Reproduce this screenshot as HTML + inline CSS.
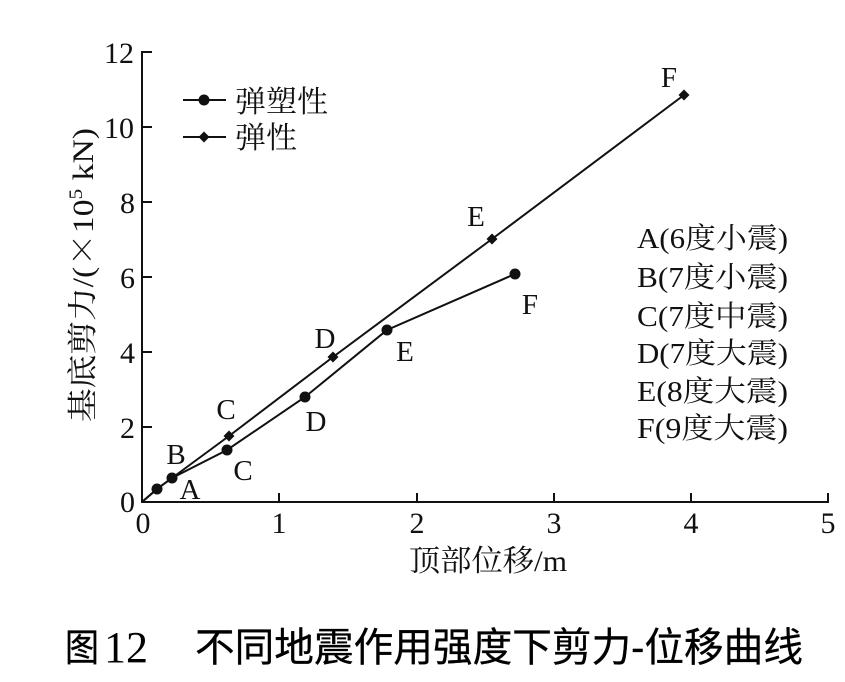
<!DOCTYPE html>
<html><head><meta charset="utf-8"><style>
html,body{margin:0;padding:0;background:#fff;}
svg{display:block;}
.t{font-family:"Liberation Serif","Noto Serif CJK SC",serif;fill:#111;}
.c{font-family:"Liberation Serif","Noto Serif CJK SC",serif;fill:#111;}
.cap{font-family:"Liberation Sans","Noto Sans CJK SC",sans-serif;fill:#000;}
</style></head><body>
<svg width="845" height="682" viewBox="0 0 845 682" xmlns="http://www.w3.org/2000/svg">
<rect width="845" height="682" fill="#fff"/>
<g stroke="#111" stroke-width="2" fill="none">
<path d="M142 51 V502 H829"/>
<path d="M142 52 H152 M142 127 H152 M142 202 H152 M142 277 H152 M142 352 H152 M142 427 H152"/>
<path d="M279 502 V493 M417 502 V493 M554 502 V493 M691 502 V493 M828 502 V493"/>
<polyline points="142,502 157,489 172,478 227,450 305,397 387,330 515,274"/>
<polyline points="142,502 157,489 172,478 229,436 333,357 492,239 684,95"/>
<path d="M183 100 H226 M183 137 H226"/>
</g>
<g fill="#111">
<path d="M157 483.5 L162.5 489 L157 494.5 L151.5 489Z"/>
<path d="M229 430.5 L234.5 436 L229 441.5 L223.5 436Z"/>
<path d="M333 351.5 L338.5 357 L333 362.5 L327.5 357Z"/>
<path d="M492 233.5 L497.5 239 L492 244.5 L486.5 239Z"/>
<path d="M684 89.5 L689.5 95 L684 100.5 L678.5 95Z"/>
<path d="M204 131.5 L209.5 137 L204 142.5 L198.5 137Z"/>
<circle cx="157" cy="489" r="5.5"/>
<circle cx="172" cy="478" r="5.5"/>
<circle cx="227" cy="450" r="5.5"/>
<circle cx="305" cy="397" r="5.5"/>
<circle cx="387" cy="330" r="5.5"/>
<circle cx="515" cy="274" r="5.5"/>
<circle cx="204" cy="100" r="5.5"/>
</g>
<!-- y tick labels -->
<g class="t" font-size="30" text-anchor="end">
<text x="134" y="63">12</text>
<text x="134" y="138">10</text>
<text x="135" y="213">8</text>
<text x="135" y="288">6</text>
<text x="135" y="363">4</text>
<text x="135" y="438">2</text>
<text x="135" y="512">0</text>
</g>
<!-- x tick labels -->
<g class="t" font-size="30" text-anchor="middle">
<text x="143" y="533">0</text>
<text x="279" y="533">1</text>
<text x="417" y="533">2</text>
<text x="554" y="533">3</text>
<text x="691" y="533">4</text>
<text x="828" y="533">5</text>
</g>
<!-- x axis title -->
<text class="c" x="409" y="571" font-size="30" textLength="158" lengthAdjust="spacingAndGlyphs">顶部位移/m</text>
<!-- y axis title -->
<text class="c" font-size="30" transform="translate(93,422) rotate(-90)" textLength="294" lengthAdjust="spacingAndGlyphs">基底剪力/(<tspan font-family="Noto Serif CJK SC, serif">×</tspan>10<tspan font-size="19" dy="-11">5</tspan><tspan dy="11"> kN)</tspan></text>
<!-- legend -->
<text class="c" x="235" y="112" font-size="30" textLength="93" lengthAdjust="spacingAndGlyphs">弹塑性</text>
<text class="c" x="235" y="148" font-size="30" textLength="62" lengthAdjust="spacingAndGlyphs">弹性</text>
<!-- point labels -->
<g class="t" font-size="29" text-anchor="middle">
<text x="190" y="499">A</text>
<text x="176" y="464">B</text>
<text x="226" y="419">C</text>
<text x="243" y="480">C</text>
<text x="316" y="431">D</text>
<text x="325" y="348">D</text>
<text x="405" y="361">E</text>
<text x="476" y="226">E</text>
<text x="530" y="314">F</text>
<text x="669" y="87">F</text>
</g>
<!-- right legend list -->
<g class="c" font-size="29">
<text x="637" y="248" textLength="151" lengthAdjust="spacingAndGlyphs">A(6度小震)</text>
<text x="637" y="287" textLength="151" lengthAdjust="spacingAndGlyphs">B(7度小震)</text>
<text x="637" y="326" textLength="151" lengthAdjust="spacingAndGlyphs">C(7度中震)</text>
<text x="637" y="363" textLength="151" lengthAdjust="spacingAndGlyphs">D(7度大震)</text>
<text x="637" y="401" textLength="151" lengthAdjust="spacingAndGlyphs">E(8度大震)</text>
<text x="637" y="438" textLength="151" lengthAdjust="spacingAndGlyphs">F(9度大震)</text>
</g>
<!-- caption -->
<text class="cap" x="65" y="661" font-size="38" textLength="34" lengthAdjust="spacingAndGlyphs" stroke="#000" stroke-width="0.3">图</text>
<text x="104" y="662" font-size="44" fill="#000" font-family="Liberation Serif, serif">12</text>
<text class="cap" x="195" y="661" font-size="40" textLength="608" lengthAdjust="spacingAndGlyphs" stroke="#000" stroke-width="0.3">不同地震作用强度下剪力-位移曲线</text>
</svg>
</body></html>
